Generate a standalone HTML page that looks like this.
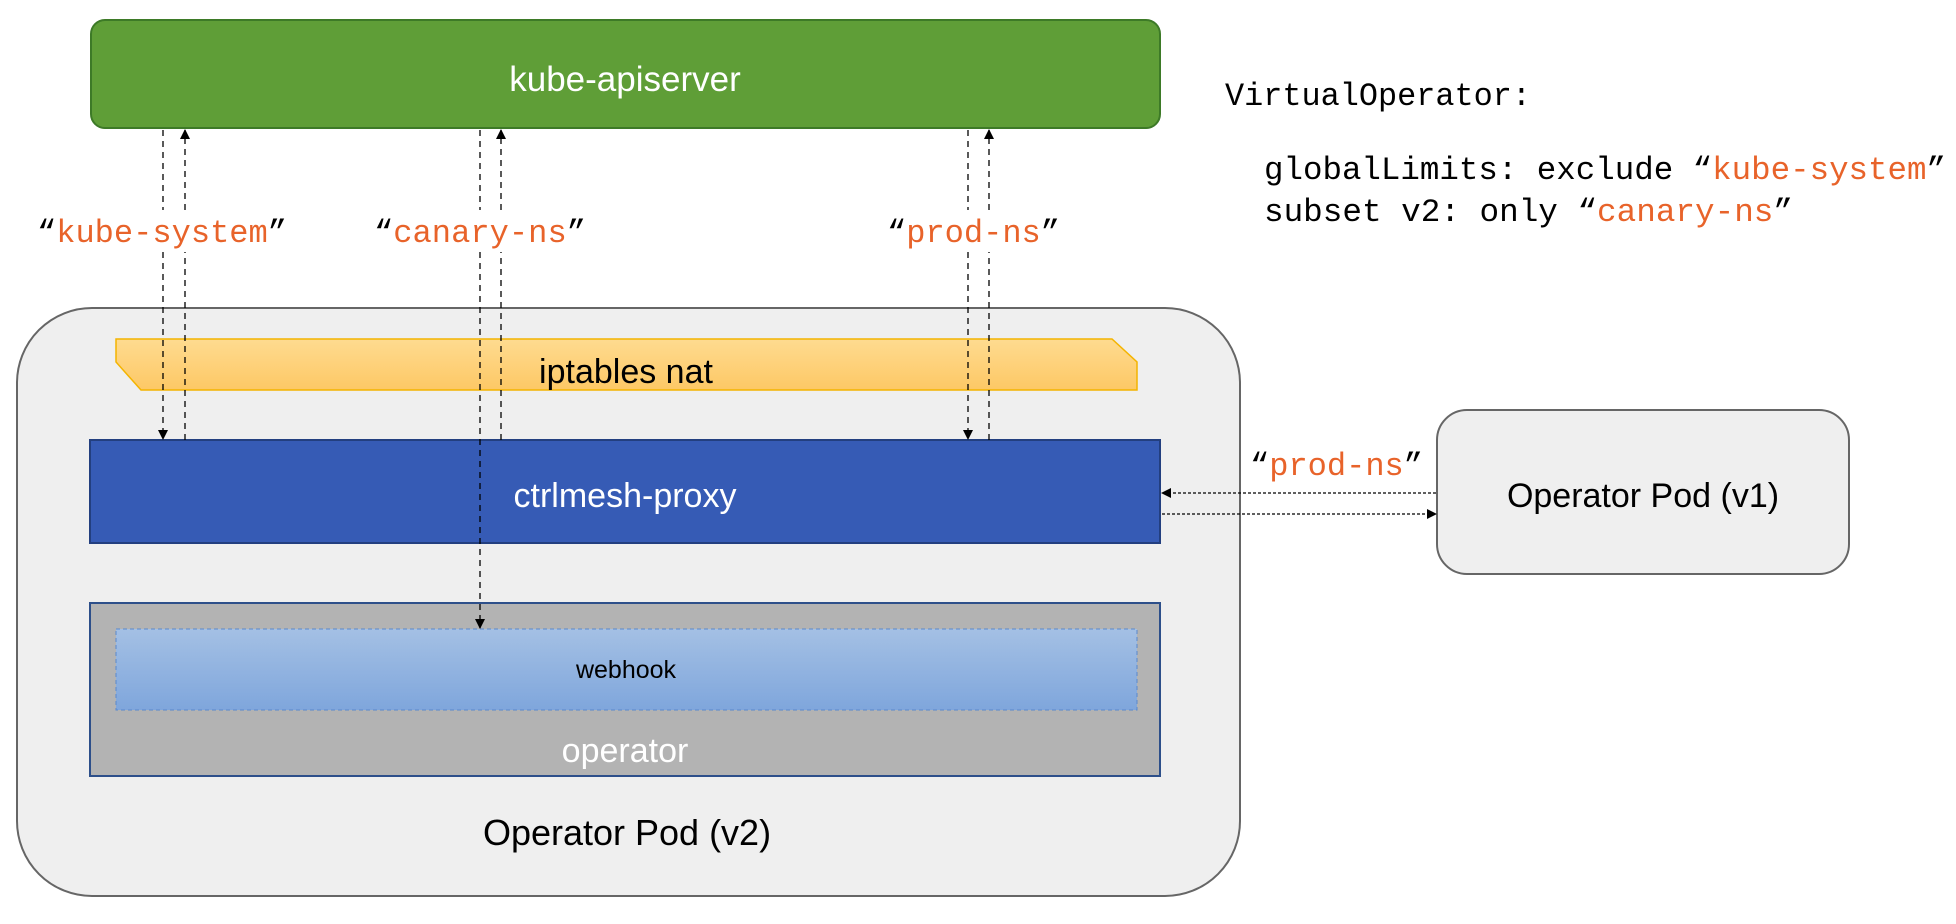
<!DOCTYPE html>
<html><head><meta charset="utf-8"><style>
html,body{margin:0;padding:0;background:#fff}
svg{display:block}
.s{font-family:"Liberation Sans",sans-serif}
.m{font-family:"Liberation Mono",monospace}
.o{fill:#e8632a}
</style></head><body>
<svg width="1956" height="924" viewBox="0 0 1956 924" xmlns="http://www.w3.org/2000/svg">
<defs>
<linearGradient id="gy" x1="0" y1="0" x2="0" y2="1"><stop offset="0" stop-color="#fedb90"/><stop offset="1" stop-color="#fdc865"/></linearGradient>
<linearGradient id="gb" x1="0" y1="0" x2="0" y2="1"><stop offset="0" stop-color="#a4c0e4"/><stop offset="1" stop-color="#7fa6dc"/></linearGradient>
<marker id="ar" markerWidth="10" markerHeight="10" refX="9" refY="5" orient="auto" markerUnits="userSpaceOnUse"><path d="M0,0 L10,5 L0,10 z" fill="#000"/></marker>
</defs>

<rect x="17" y="308" width="1223" height="588" rx="75" fill="#efefef" stroke="#666" stroke-width="2"/>

<rect x="91" y="20" width="1069" height="108" rx="14" fill="#5f9e37" stroke="#3d7a27" stroke-width="2"/>
<text x="625" y="91" class="s" font-size="35" fill="#fff" text-anchor="middle">kube-apiserver</text>

<path d="M116,339 L1112,339 L1137,362 L1137,390 L141,390 L116,362 Z" fill="url(#gy)" stroke="#f4b400" stroke-width="1.5"/>
<text x="626" y="383" class="s" font-size="34" fill="#000" text-anchor="middle">iptables nat</text>

<rect x="90" y="440" width="1070" height="103" fill="#365bb5" stroke="#233f7f" stroke-width="2"/>
<text x="625" y="507" class="s" font-size="34" fill="#fff" text-anchor="middle">ctrlmesh-proxy</text>

<rect x="90" y="603" width="1070" height="173" fill="#b3b3b3" stroke="#2d4f8a" stroke-width="2"/>
<rect x="116" y="629" width="1021" height="81" fill="url(#gb)" stroke="#5a88cc" stroke-width="1" stroke-dasharray="4,3"/>
<text x="626" y="678" class="s" font-size="25" fill="#000" text-anchor="middle">webhook</text>
<text x="625" y="762" class="s" font-size="34" fill="#fff" text-anchor="middle">operator</text>

<text x="627" y="845" class="s" font-size="36" fill="#000" text-anchor="middle">Operator Pod (v2)</text>

<rect x="1437" y="410" width="412" height="164" rx="30" fill="#efefef" stroke="#666" stroke-width="2"/>
<text x="1643" y="507" class="s" font-size="34" fill="#000" text-anchor="middle">Operator Pod (v1)</text>

<g stroke="#000" stroke-width="1.3" stroke-dasharray="6,5" fill="none">
<line x1="163" y1="130" x2="163" y2="210"/><line x1="163" y1="252" x2="163" y2="439" marker-end="url(#ar)"/>
<line x1="185" y1="440" x2="185" y2="252"/><line x1="185" y1="210" x2="185" y2="130" marker-end="url(#ar)"/>
<line x1="480" y1="130" x2="480" y2="210"/><line x1="480" y1="252" x2="480" y2="628" marker-end="url(#ar)"/>
<line x1="501" y1="440" x2="501" y2="252"/><line x1="501" y1="210" x2="501" y2="130" marker-end="url(#ar)"/>
<line x1="968" y1="130" x2="968" y2="210"/><line x1="968" y1="252" x2="968" y2="439" marker-end="url(#ar)"/>
<line x1="989" y1="440" x2="989" y2="252"/><line x1="989" y1="210" x2="989" y2="130" marker-end="url(#ar)"/>
</g>
<g stroke="#000" stroke-width="1.3" stroke-dasharray="3,2" fill="none">
<line x1="1436" y1="493" x2="1162" y2="493" marker-end="url(#ar)"/>
<line x1="1162" y1="514" x2="1436" y2="514" marker-end="url(#ar)"/>
</g>

<g class="m" font-size="32">
<text x="37" y="242" textLength="250" lengthAdjust="spacingAndGlyphs">“<tspan class="o">kube-system</tspan>”</text>
<text x="374" y="242" textLength="212" lengthAdjust="spacingAndGlyphs">“<tspan class="o">canary-ns</tspan>”</text>
<text x="887" y="242" textLength="173" lengthAdjust="spacingAndGlyphs">“<tspan class="o">prod-ns</tspan>”</text>
<text x="1250" y="475" textLength="173" lengthAdjust="spacingAndGlyphs">“<tspan class="o">prod-ns</tspan>”</text>
<text x="1225" y="105" textLength="306" lengthAdjust="spacingAndGlyphs">VirtualOperator:</text>
<text x="1264" y="179" textLength="682" lengthAdjust="spacingAndGlyphs">globalLimits: exclude “<tspan class="o">kube-system</tspan>”</text>
<text x="1264" y="221" textLength="529" lengthAdjust="spacingAndGlyphs">subset v2: only “<tspan class="o">canary-ns</tspan>”</text>
</g>
</svg>
</body></html>
